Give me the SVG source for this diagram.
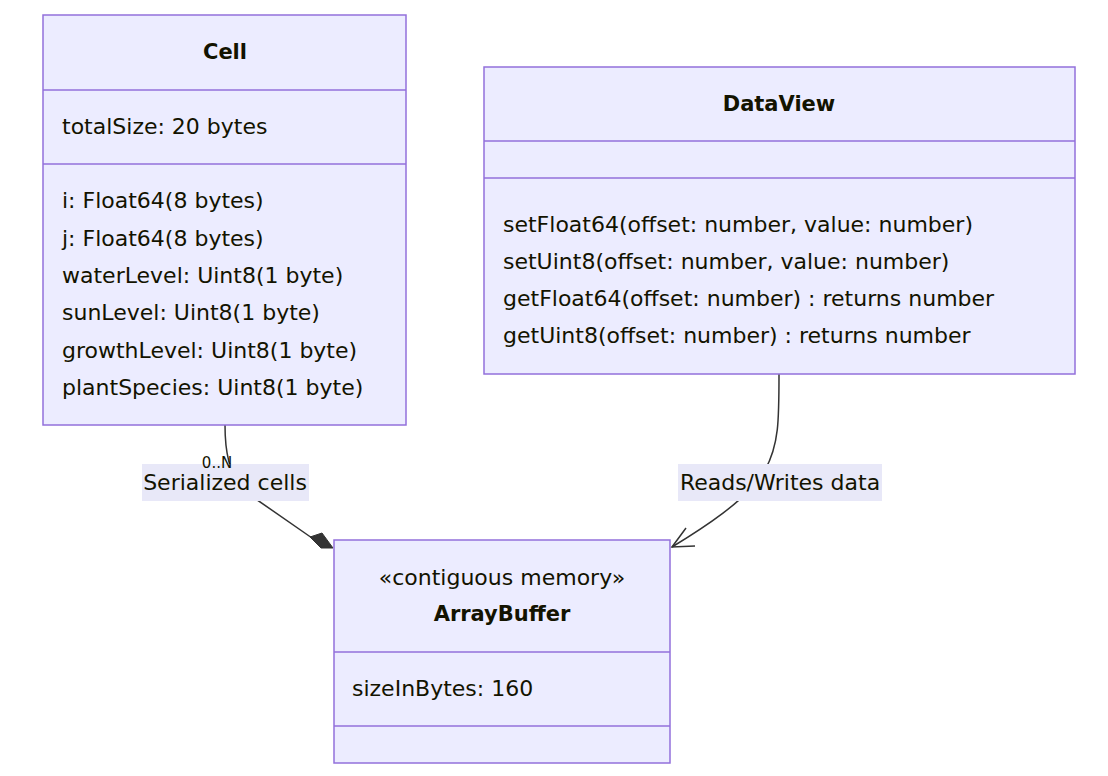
<svg xmlns="http://www.w3.org/2000/svg" width="1108" height="776" viewBox="0 0 1108 776">
<style>
.box{fill:#ECECFF;stroke:#9370DB;stroke-width:1.5}
.div{stroke:#9370DB;stroke-width:1.5}
text{font-family:"DejaVu Sans","Liberation Sans",sans-serif;fill:#131300;font-size:22px}
.title{font-weight:bold;text-anchor:middle;font-size:21px}
.ctr{text-anchor:middle}
.edge{fill:none;stroke:#333;stroke-width:1.5}
.lblbg{fill:#E8E8F8}
.small{font-size:15px}
</style>
<rect width="1108" height="776" fill="#fff"/>
<g id="connectors">
<path class="edge" d="M225,425 C225,455 230,470 240,488 L312,538"/>
<polygon points="333,548 321,548 310,537 322,533" fill="#333" stroke="#333" stroke-width="1"/>
<path class="edge" d="M779,374 C779,420 779,445 765,470 C748,500 700,530 672,547"/>
<polyline class="edge" points="686,528 672,547 695,546" stroke-width="2"/>
<rect class="lblbg" x="142" y="464" width="167" height="37"/>
<text x="225" y="490" class="ctr">Serialized cells</text>
<text x="217" y="468" class="ctr small">0..N</text>
<rect class="lblbg" x="678" y="464" width="204" height="37"/>
<text x="780" y="490" class="ctr">Reads/Writes data</text>
</g>
<g id="Cell">
<rect class="box" x="43" y="15" width="363" height="410"/>
<line class="div" x1="43" y1="90" x2="406" y2="90"/>
<line class="div" x1="43" y1="164" x2="406" y2="164"/>
<text x="225" y="59" class="title">Cell</text>
<text x="62" y="134">totalSize: 20 bytes</text>
<text x="62" y="208">i: Float64(8 bytes)</text>
<text x="62" y="246">j: Float64(8 bytes)</text>
<text x="62" y="283">waterLevel: Uint8(1 byte)</text>
<text x="62" y="320">sunLevel: Uint8(1 byte)</text>
<text x="62" y="358">growthLevel: Uint8(1 byte)</text>
<text x="62" y="395">plantSpecies: Uint8(1 byte)</text>
</g>
<g id="DataView">
<rect class="box" x="484" y="67" width="591" height="307"/>
<line class="div" x1="484" y1="141" x2="1075" y2="141"/>
<line class="div" x1="484" y1="178" x2="1075" y2="178"/>
<text x="779" y="111" class="title">DataView</text>
<text x="503" y="232">setFloat64(offset: number, value: number)</text>
<text x="503" y="269">setUint8(offset: number, value: number)</text>
<text x="503" y="306">getFloat64(offset: number) : returns number</text>
<text x="503" y="343">getUint8(offset: number) : returns number</text>
</g>
<g id="ArrayBuffer">
<rect class="box" x="334" y="540" width="336" height="223"/>
<line class="div" x1="334" y1="652" x2="670" y2="652"/>
<line class="div" x1="334" y1="726" x2="670" y2="726"/>
<text x="502" y="585" class="ctr">«contiguous memory»</text>
<text x="502" y="621" class="title">ArrayBuffer</text>
<text x="352" y="696">sizeInBytes: 160</text>
</g>
</svg>
